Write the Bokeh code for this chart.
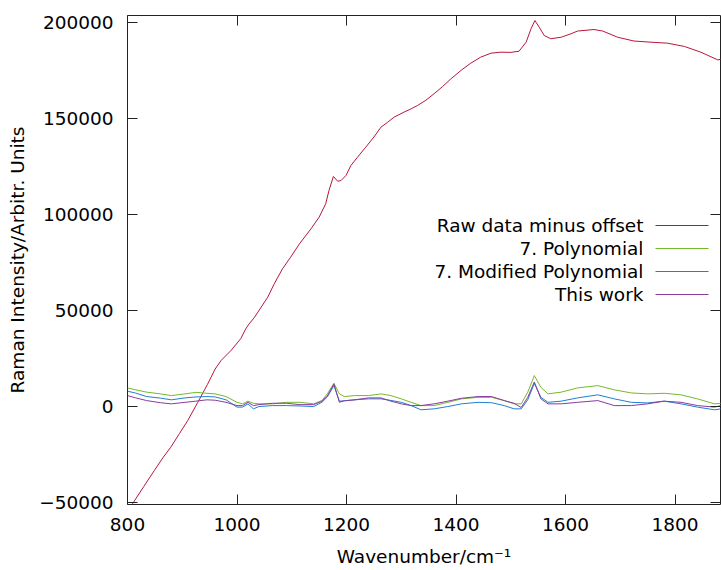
from bokeh.plotting import figure
from bokeh.models import (Range1d, FixedTicker, BasicTickFormatter, LinearAxis,
                          Label, Arrow, CustomLabelingPolicy)
from bokeh.embed import file_html
from bokeh.resources import INLINE

# ---- data ----
raw_wn = [800, 809, 830, 849, 865, 879, 895, 910, 928, 946, 960, 971, 989, 1007,
          1016, 1022, 1032, 1044, 1056, 1068, 1083, 1098, 1114, 1135, 1150, 1162,
          1168, 1176, 1184, 1190, 1199, 1208, 1220, 1235, 1250, 1263, 1275, 1287,
          1305, 1318, 1330, 1345, 1360, 1375, 1391, 1409, 1427, 1445, 1464, 1482,
          1500, 1515, 1528, 1537, 1544, 1552, 1561, 1573, 1592, 1610, 1622, 1652,
          1668, 1695, 1725, 1756, 1786, 1817, 1847, 1878, 1886]
raw_int = [-53500, -50700, -41500, -33300, -26500, -21200, -14000, -7300, 2000,
           11500, 19500, 24000, 29200, 35400, 40500, 43000, 46500, 51700, 56900,
           63900, 71700, 77800, 84700, 92500, 98600, 105600, 112500, 119800, 117300,
           117700, 120300, 125500, 129800, 135000, 140300, 145500, 148000, 150700,
           153300, 155000, 156800, 159500, 162900, 166500, 170700, 175000, 178800,
           181900, 184000, 184500, 184400, 185000, 189700, 196700, 201000, 197500,
           193200, 191500, 192300, 194100, 195500, 196300, 195500, 192300, 190300,
           189700, 189200, 187500, 184500, 180500, 181000]

wn = [800, 815, 835, 860, 880, 905, 925, 945, 960, 980, 1000, 1010, 1020, 1030,
      1040, 1065, 1090, 1115, 1140, 1155, 1165, 1177, 1187, 1196, 1215, 1240, 1263,
      1281, 1300, 1318, 1336, 1360, 1385, 1410, 1440, 1465, 1488, 1506, 1519, 1531,
      1543, 1555, 1568, 1592, 1622, 1659, 1689, 1720, 1750, 1780, 1811, 1841, 1872,
      1884]
poly7 = [9700, 8700, 7500, 6600, 5700, 6600, 7400, 6900, 6600, 5200, 2200, 1400,
         2800, 1700, 1400, 1400, 2200, 2200, 1400, 3100, 6600, 12100, 6600, 5200,
         5700, 5700, 6600, 5700, 4000, 2200, 500, 500, 2200, 4000, 4800, 4800, 3100,
         1400, 1400, 7500, 16100, 10000, 6600, 7500, 9700, 10900, 8700, 7100, 6600,
         6900, 6100, 4000, 1400, 1700]
mod_poly7 = [8000, 7000, 5200, 4400, 3500, 4500, 5000, 5200, 5000, 3500, -300, -300,
             1400, -1200, 0, 500, 500, 300, 0, 2200, 5000, 10900, 2800, 3000, 3500,
             4000, 4000, 3200, 2200, 500, -1700, -1200, 0, 1400, 2200, 2000, 500,
             -1200, -1200, 3500, 12100, 4800, 2200, 2800, 4500, 6100, 4000, 2200,
             1900, 2800, 1400, -300, -1700, -1200]
this_work = [5700, 4500, 3100, 2000, 1400, 2200, 2800, 3500, 3300, 2200, 500, 500,
             2200, 500, 1000, 1700, 1700, 1000, 1000, 2800, 5500, 11800, 2200, 3000,
             3500, 4500, 4500, 2800, 1400, 500, 500, 1400, 2800, 4300, 5200, 5200,
             3100, 1700, -500, 4800, 12800, 4000, 1400, 1400, 2200, 3100, 500, 500,
             1400, 2800, 2200, 500, -300, 500]

x_ticks = [800, 1000, 1200, 1400, 1600, 1800]
y_ticks = [-50000, 0, 50000, 100000, 150000, 200000]
series_names = ["Raw data minus offset", "7. Polynomial",
                "7. Modified Polynomial", "This work"]
colors = ["#b8163c", "#76b82a", "#1f7fd0", "#8b3a9f"]

FONT = "DejaVu Sans"
FS = "18.5px"
INK = "#222222"

p = figure(width=721, height=570, output_backend="svg", toolbar_location=None,
           x_range=Range1d(800, 1883), y_range=Range1d(-51000, 203600),
           min_border_left=127, min_border_right=1, min_border_top=15,
           min_border_bottom=66, background_fill_color="white",
           border_fill_color="white")
p.grid.visible = False
p.outline_line_color = INK
p.outline_line_width = 1

xa = p.xaxis[0]
ya = p.yaxis[0]
xa.ticker = FixedTicker(ticks=x_ticks)
ya.ticker = FixedTicker(ticks=y_ticks)
ya.formatter = BasicTickFormatter(use_scientific=False)
xa.formatter = BasicTickFormatter(use_scientific=False)
xa.axis_label = "Wavenumber/cm\u207b\u00b9"
ya.axis_label = "Raman Intensity/Arbitr. Units"
for ax in (xa, ya):
    ax.axis_line_color = None
    ax.major_tick_in = 10
    ax.major_tick_out = 0
    ax.major_tick_line_color = INK
    ax.minor_tick_line_color = None
    ax.major_label_text_font = FONT
    ax.major_label_text_font_size = FS
    ax.major_label_text_color = "black"
    ax.axis_label_text_font = FONT
    ax.axis_label_text_font_size = FS
    ax.axis_label_text_font_style = "normal"
    ax.axis_label_text_color = "black"
xa.major_label_standoff = 13
xa.axis_label_standoff = 12
ya.major_label_standoff = 14
ya.axis_label_standoff = 8

# mirrored tick marks on top and right (no labels drawn)
no_labels = CustomLabelingPolicy(
    code="for (let i = 0; i < indices.size; i++) { indices.unset(i) } return indices")
for loc, tks in (("above", x_ticks), ("right", y_ticks)):
    m = LinearAxis(ticker=FixedTicker(ticks=tks), major_label_policy=no_labels)
    m.axis_line_color = None
    m.major_tick_in = 10
    m.major_tick_out = 0
    m.major_tick_line_color = INK
    m.minor_tick_line_color = None
    m.major_label_text_font_size = "0px"
    m.major_label_standoff = 0
    p.add_layout(m, loc)

renderers = []
for xs, ys, c in ((raw_wn, raw_int, colors[0]), (wn, poly7, colors[1]),
                  (wn, mod_poly7, colors[2]), (wn, this_work, colors[3])):
    renderers.append(p.line(xs, ys, line_color=c, line_width=1))

# key (gnuplot style): right-aligned text, sample line to its right
for i, (name, c) in enumerate(zip(series_names, colors)):
    ky = 279 - 23 * i
    p.add_layout(Label(x=516, y=ky, x_units="screen", y_units="screen",
                       text=name, text_align="right", text_baseline="middle",
                       text_font=FONT, text_font_size=FS, text_color="black"))
    p.add_layout(Arrow(x_start=528, y_start=ky, x_end=581, y_end=ky,
                       start_units="screen", end_units="screen", end=None,
                       start=None, line_color=c, line_width=1))

open("out.html", "w").write(file_html(p, INLINE))
